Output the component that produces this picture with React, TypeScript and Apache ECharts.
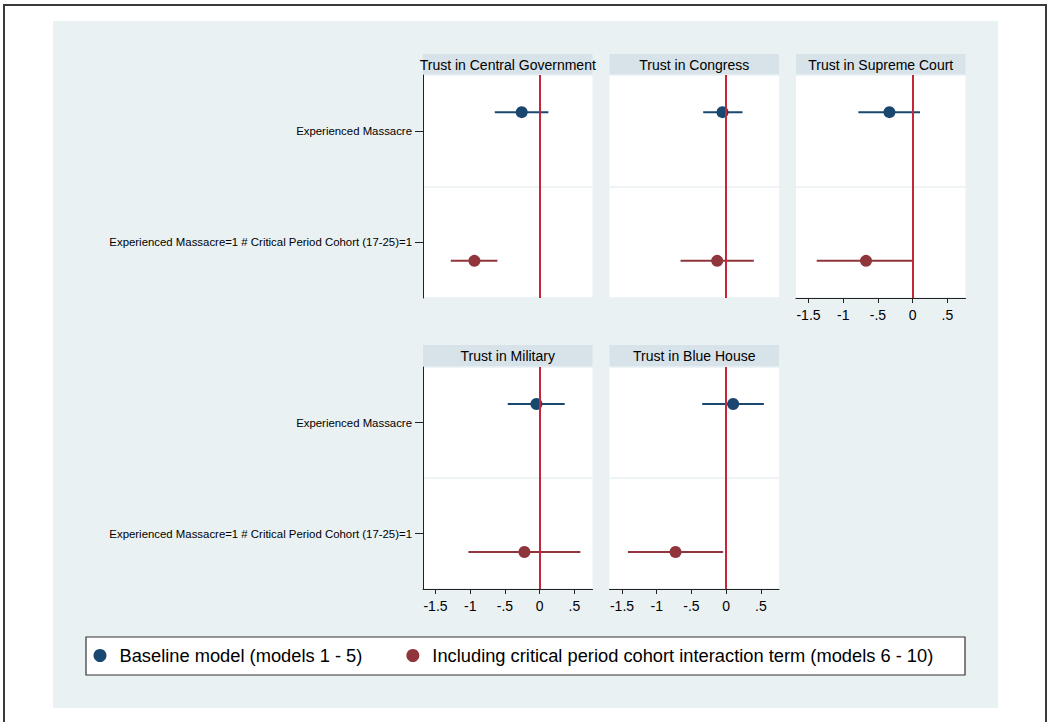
import React, { useEffect, useRef } from "react";
import * as echarts from "echarts";

const panelTitles = [
  "Trust in Central Government",
  "Trust in Congress",
  "Trust in Supreme Court",
  "Trust in Military",
  "Trust in Blue House",
];
const rowLabels = [
  "Experienced Massacre",
  "Experienced Massacre=1 # Critical Period Cohort (17-25)=1",
];
const modelNames = [
  "Baseline model (models 1 - 5)",
  "Including critical period cohort interaction term (models 6 - 10)",
];
// Baseline model: coefficient on "Experienced Massacre"
const baselineEst = [-0.259, -0.053, -0.335, -0.047, 0.1];
const baselineLo = [-0.647, -0.331, -0.782, -0.46, -0.345];
const baselineHi = [0.125, 0.235, 0.105, 0.36, 0.542];
// Interaction model: coefficient on the interaction term
const interEst = [-0.94, -0.13, -0.672, -0.22, -0.73];
const interLo = [-1.28, -0.657, -1.382, -1.026, -1.415];
const interHi = [-0.609, 0.398, 0.019, 0.585, -0.044];
// row of each model's coefficient and its offset within the row
const modelRow = [0, 1];
const modelOffset = [-1 / 6, 1 / 6];
const xTicks = [-1.5, -1, -0.5, 0, 0.5];
const xTickLabels = ["-1.5", "-1", "-.5", "0", ".5"];

const FONT = "'Liberation Sans', Arial, Helvetica, sans-serif";
const BLUE = "#1a476f";
const RED = "#90353b";
const ZERO = "#c4263a";
const BG = "#e9f1f3";
const STRIP = "#d7e3e9";

const panels = [
  { left: 423, top: 75, height: 223, showY: true, showX: false },
  { left: 609.5, top: 75, height: 223, showY: false, showX: false },
  { left: 796, top: 75, height: 223, showY: false, showX: true },
  { left: 423, top: 367, height: 222, showY: true, showX: true },
  { left: 609.5, top: 367, height: 222, showY: false, showX: true },
];
const PW = 169.5;

export default function App() {
  const ref = useRef<HTMLDivElement>(null);
  useEffect(() => {
    if (!ref.current) return;
    const chart = echarts.init(ref.current, undefined, { renderer: "svg" });
    const grids: any[] = [];
    const xAxes: any[] = [];
    const yAxes: any[] = [];
    const series: any[] = [];
    const graphics: any[] = [
      {
        type: "rect",
        z: -20,
        shape: { x: 4, y: 5, width: 1042, height: 720 },
        style: { fill: "#ffffff", stroke: "#3a3a3a", lineWidth: 2 },
      },
      {
        type: "rect",
        z: -10,
        shape: { x: 53, y: 21, width: 945, height: 687 },
        style: { fill: BG },
      },
      {
        type: "rect",
        z: -5,
        shape: { x: 86, y: 637, width: 879, height: 38 },
        style: { fill: "#ffffff", stroke: "#333333", lineWidth: 1.2 },
      },
    ];
    const ests = [baselineEst, interEst];
    const los = [baselineLo, interLo];
    const his = [baselineHi, interHi];
    const colors = [BLUE, RED];

    panels.forEach((p, i) => {
      grids.push({
        left: p.left,
        top: p.top,
        width: PW,
        height: p.height,
        show: true,
        backgroundColor: "#ffffff",
        borderWidth: 0,
        containLabel: false,
      });
      const stripH = i < 3 ? 21 : 22;
      graphics.push({
        type: "rect",
        z: -5,
        shape: { x: p.left, y: p.top - stripH, width: PW, height: stripH },
        style: { fill: STRIP },
      });
      graphics.push({
        type: "text",
        z: 5,
        x: p.left + PW / 2,
        y: p.top - stripH / 2,
        style: {
          text: panelTitles[i],
          fill: "#000",
          font: `14px ${FONT}`,
          align: "center",
          verticalAlign: "middle",
        },
      });
      xAxes.push({
        gridIndex: i,
        type: "value",
        min: -1.68,
        max: 0.76,
        show: p.showX,
        axisLine: { show: true, onZero: false, lineStyle: { color: "#222", width: 1 } },
        axisTick: {
          show: true,
          length: 5,
          customValues: xTicks,
          lineStyle: { color: "#222", width: 1 },
        },
        axisLabel: {
          show: true,
          customValues: xTicks,
          margin: 10,
          fontSize: 14,
          fontFamily: FONT,
          color: "#000",
          formatter: (v: number) => {
            const k = xTicks.findIndex((t) => Math.abs(t - v) < 1e-9);
            return k >= 0 ? xTickLabels[k] : "";
          },
        },
        splitLine: { show: false },
      });
      yAxes.push({
        gridIndex: i,
        type: "category",
        inverse: true,
        data: rowLabels,
        boundaryGap: true,
        position: "left",
        axisLine: { show: p.showY, onZero: false, lineStyle: { color: "#222", width: 1 } },
        axisTick: {
          show: p.showY,
          alignWithLabel: true,
          length: 8,
          lineStyle: { color: "#222", width: 1 },
        },
        axisLabel: {
          show: p.showY,
          margin: 11,
          fontSize: 11.4,
          fontFamily: FONT,
          color: "#000",
        },
        splitLine: { show: true, lineStyle: { color: BG, width: 1.5 } },
      });
      yAxes.push({
        gridIndex: i,
        type: "value",
        min: 0,
        max: 2,
        inverse: true,
        show: false,
      });
      const vIdx = 2 * i + 1;
      series.push({
        type: "line",
        xAxisIndex: i,
        yAxisIndex: vIdx,
        data: [],
        z: 1,
        silent: true,
        markLine: {
          silent: true,
          symbol: ["none", "none"],
          label: { show: false },
          lineStyle: { color: ZERO, width: 2, type: "solid" },
          data: [{ xAxis: 0 }],
        },
      });
      [0, 1].forEach((m) => {
        const yPos = modelRow[m] + 0.5 + modelOffset[m];
        const color = colors[m];
        series.push({
          type: "custom",
          xAxisIndex: i,
          yAxisIndex: vIdx,
          z: 2,
          silent: true,
          encode: { x: [0, 1], y: 2 },
          data: [[los[m][i], his[m][i], yPos]],
          renderItem: (params: any, api: any) => {
            const y = api.value(2);
            const a = api.coord([api.value(0), y]);
            const b = api.coord([api.value(1), y]);
            return {
              type: "line",
              shape: { x1: a[0], y1: a[1], x2: b[0], y2: b[1] },
              style: { stroke: color, lineWidth: 2 },
            };
          },
        });
        series.push({
          type: "scatter",
          name: modelNames[m],
          xAxisIndex: i,
          yAxisIndex: vIdx,
          z: 3,
          symbol: "circle",
          symbolSize: 12,
          itemStyle: { color, opacity: 1 },
          data: [[ests[m][i], yPos]],
        });
      });
    });

    chart.setOption({
      animation: false,
      backgroundColor: "transparent",
      textStyle: { fontFamily: FONT },
      grid: grids,
      xAxis: xAxes,
      yAxis: yAxes,
      series,
      graphic: graphics,
      legend: {
        data: modelNames,
        left: 93.5,
        top: 646.5,
        padding: 0,
        orient: "horizontal",
        icon: "circle",
        itemWidth: 13,
        itemHeight: 13,
        itemGap: 44,
        selectedMode: false,
        z: 10,
        textStyle: {
          fontSize: 18.3,
          fontFamily: FONT,
          color: "#000",
          padding: [0, 0, 0, 8],
        },
      },
    });
    return () => chart.dispose();
  }, []);
  return (
    <div
      ref={ref}
      style={{ position: "absolute", left: 0, top: 0, width: 1048, height: 722 }}
    />
  );
}
